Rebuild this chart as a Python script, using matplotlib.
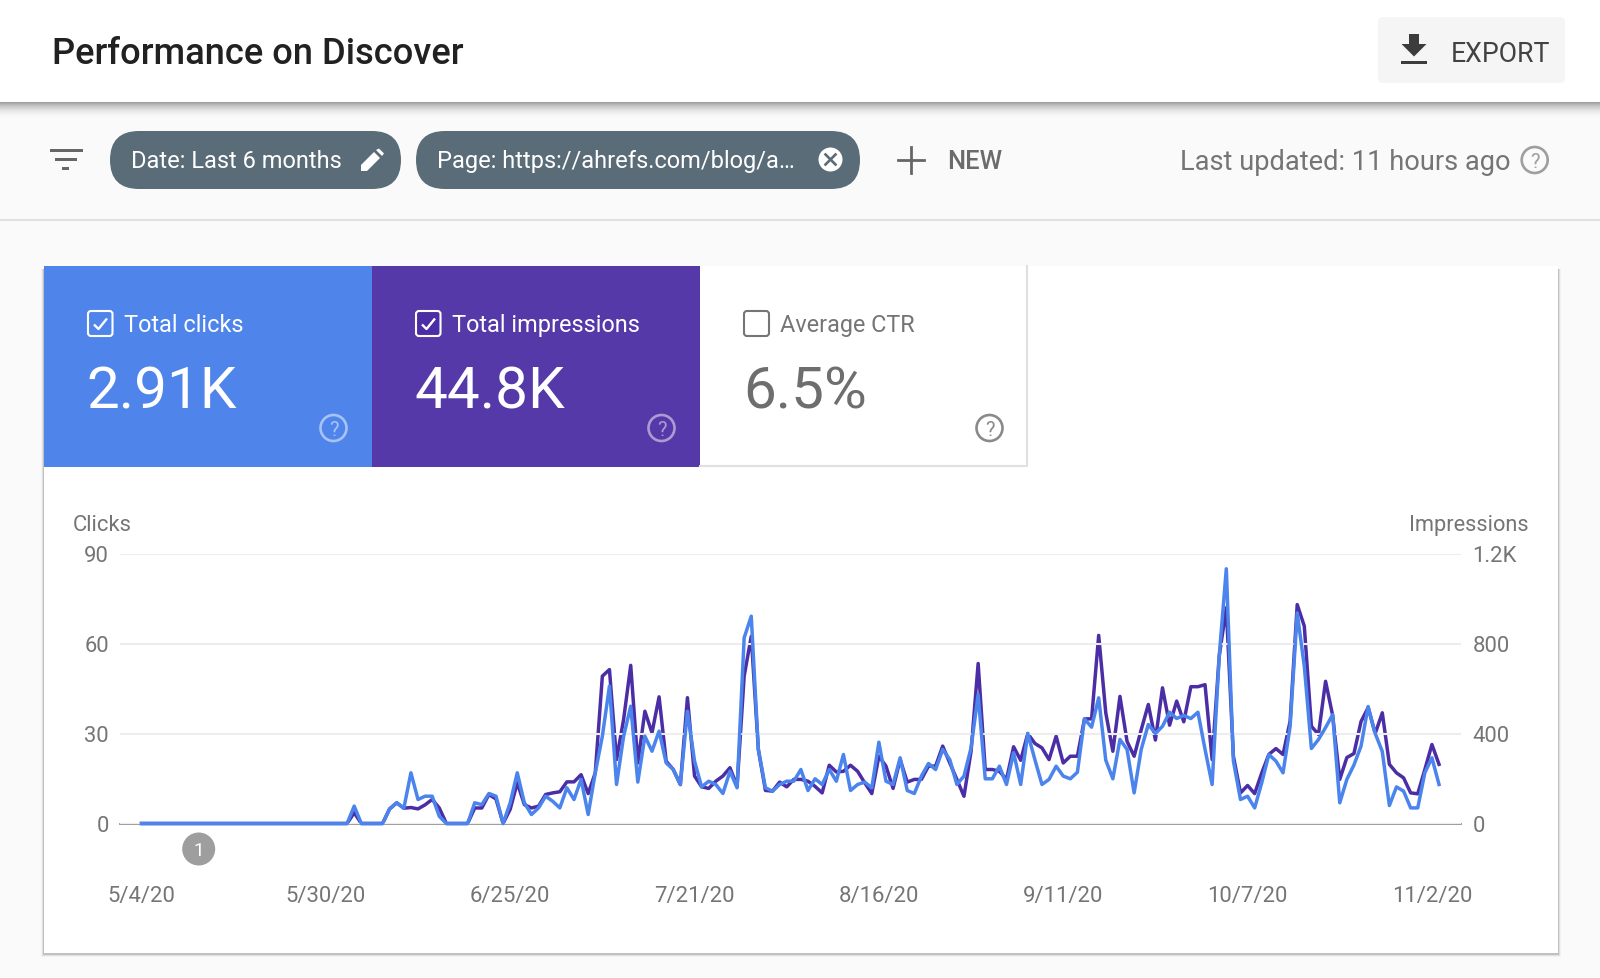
#!/usr/bin/env python3
"""Search Console style performance card, drawn on a pixel grid."""

import matplotlib

matplotlib.use("Agg")

import matplotlib.dates as mdates
import matplotlib.pyplot as plt
import pandas as pd
from matplotlib.patches import Circle, FancyBboxPatch, Polygon, Rectangle

plt.rcParams["font.family"] = ["Roboto", "DejaVu Sans"]

W, H = 1600, 979

BG = "#FAFAFA"
BLUE = "#4A84EC"
PURPLE = "#4B2EA5"
TILE_BLUE = "#4F85EB"
TILE_PURPLE = "#5539A8"
CHIP = "#5A6C78"
GREY = "#757575"

CLICKS = [
    0, 0, 0, 0, 0, 0, 0, 0, 0, 0,
    0, 0, 0, 0, 0, 0, 0, 0, 0, 0,
    0, 0, 0, 0, 0, 0, 0, 0, 0, 0,
    5.8, 0, 0, 0, 0, 4.9, 6.9, 5.1, 16.9, 8,
    9.1, 9.1, 2.4, 0, 0, 0, 0, 6.9, 6.3, 10,
    9.1, 0, 6.9, 16.9, 6.9, 3, 5.2, 9.1, 7.4, 5.2,
    11.9, 8, 14.7, 3, 16.9, 29.1, 45.8, 13, 29.1, 39.1,
    13.8, 29.1, 24.1, 30.8, 20.2, 18, 13, 37.4, 20.8, 12.2,
    14.1, 13, 10, 17.4, 11.9, 61.9, 69.1, 24.7, 11.9, 10.8,
    13, 14.1, 14.1, 18, 11, 14.9, 13, 18, 14.1, 23,
    11, 13, 13.8, 11.9, 27.1, 14.1, 13, 21.9, 11, 10,
    15.8, 20, 18, 24.7, 21.3, 13, 15.8, 25.2, 43, 14.9,
    14.9, 19.1, 13, 23.6, 13, 30, 21.3, 13, 14.7, 19.1,
    15.8, 14.9, 17.1, 34.9, 32.1, 41.9, 21.1, 14.9, 28, 24.7,
    10.2, 24.7, 33, 30, 32.4, 37.1, 35, 36, 35, 37.1,
    24.7, 13, 55.8, 84.9, 20.8, 8, 9.1, 5.2, 13.6, 23,
    20.8, 16.9, 32.4, 70.2, 52.4, 25, 28, 32, 36.3, 6.9,
    14.7, 19.5, 25.8, 39, 30, 24, 6, 12.2, 10.8, 5.2,
    5.2, 16.9, 21.9, 13,
]

IMPRESSIONS = [
    0, 0, 0, 0, 0, 0, 0, 0, 0, 0,
    0, 0, 0, 0, 0, 0, 0, 0, 0, 0,
    0, 0, 0, 0, 0, 0, 0, 0, 0, 0,
    48, 0, 0, 0, 0, 65, 92, 68, 71, 65,
    83, 107, 69, 0, 0, 0, 0, 69, 69, 129,
    109, 0, 63, 181, 84, 69, 77, 129, 136, 141,
    185, 185, 217, 133, 225, 655, 684, 284, 463, 703,
    269, 499, 403, 563, 277, 240, 173, 559, 211, 163,
    156, 188, 211, 248, 165, 655, 832, 329, 147, 144,
    184, 163, 196, 196, 188, 165, 136, 259, 229, 232,
    259, 232, 181, 133, 299, 255, 156, 284, 184, 196,
    196, 255, 255, 344, 269, 196, 121, 321, 711, 240,
    240, 232, 196, 341, 281, 400, 356, 336, 284, 388,
    269, 299, 299, 465, 465, 836, 492, 321, 565, 365,
    299, 417, 529, 371, 603, 437, 544, 452, 608, 608,
    617, 284, 744, 959, 299, 136, 169, 133, 225, 307,
    333, 307, 455, 973, 877, 432, 396, 632, 480, 196,
    293, 311, 453, 515, 400, 492, 263, 225, 203, 136,
    132, 240, 351, 263,
]

DATES = pd.date_range("2020-05-04", periods=len(CLICKS), freq="D")

X_TICK_DATES = pd.to_datetime(
    ["2020-05-04", "2020-05-30", "2020-06-25", "2020-07-21",
     "2020-08-16", "2020-09-11", "2020-10-07", "2020-11-02"]
)
X_TICK_LABELS = ["5/4/20", "5/30/20", "6/25/20", "7/21/20", "8/16/20", "9/11/20", "10/7/20", "11/2/20"]

CLICK_TICKS = [0, 30, 60, 90]
IMPRESSION_TICKS = [0, 400, 800, 1200]
IMPRESSION_LABELS = ["0", "400", "800", "1.2K"]


def txt(ax, x, y, s, size, color, weight="normal", ha="left"):
    ax.text(x, y, s, fontsize=size, color=color, fontweight=weight, ha=ha, va="baseline")


def help_icon(ax, cx, cy, r, color, alpha=1.0):
    ax.add_patch(Circle((cx, cy), r, fc="none", ec=color, lw=1.9, alpha=alpha))
    ax.text(cx, cy + 7, "?", fontsize=14.5, color=color, alpha=alpha, ha="center", va="baseline")


def checkbox(ax, x0, x1, y0, y1, color, fill, checked=True):
    ax.add_patch(FancyBboxPatch((x0 + 2, y0 + 2), x1 - x0 - 4, y1 - y0 - 4,
                                boxstyle="round,pad=2,rounding_size=3", fc=fill, ec=color, lw=1.5))
    if checked:
        ax.plot([x0 + 6, x0 + 10.5, x1 - 5.5], [y0 + 13.5, y0 + 18, y0 + 7.5],
                color=color, lw=1.7, solid_capstyle="butt")


def draw_ui(ui):
    # header bar with its soft shadow
    for i in range(18):
        ui.add_patch(Rectangle((0, 103 + i), W, 1, fc="black", ec="none", alpha=0.36 * (1 - i / 18) ** 2.4))
    ui.add_patch(Rectangle((0, 0), W, 103, fc="white", ec="none"))
    txt(ui, 51.5, 64, "Performance on Discover", 26.1, "#212121", weight=500)

    ui.add_patch(FancyBboxPatch((1383, 23), 177, 56, boxstyle="round,pad=5,rounding_size=5", fc="#F5F5F5", ec="none"))
    ui.add_patch(Polygon([(1409, 35), (1419, 35), (1419, 45), (1426.5, 45), (1414, 57.5), (1401.5, 45), (1409, 45)],
                         fc="#3C3C3C", ec="none"))
    ui.add_patch(Rectangle((1401, 61.5), 25.5, 3, fc="#3C3C3C", ec="none"))
    txt(ui, 1450.5, 61.5, "EXPORT", 19.2, "#424242")

    # filter row
    ui.add_patch(Rectangle((0, 220), W, 2, fc="#E0E0E0", ec="none"))
    ui.add_patch(Rectangle((49.5, 149.5), 33, 3, fc="#666666", ec="none"))
    ui.add_patch(Rectangle((54.5, 158.5), 22.5, 3, fc="#666666", ec="none"))
    ui.add_patch(Rectangle((62, 168), 7, 3, fc="#666666", ec="none"))

    ui.add_patch(FancyBboxPatch((110, 132), 291, 58, boxstyle="round,pad=0,rounding_size=29", fc=CHIP, ec="none"))
    txt(ui, 131, 168, "Date: Last 6 months", 17.0, "white")
    ui.add_patch(Polygon([(361, 172), (361, 166), (374, 153), (380, 159), (367, 172)], fc="white", ec="none"))
    ui.add_patch(Polygon([(376, 151), (379, 149.5), (384, 154.5), (382, 157)], fc="white", ec="none"))

    ui.add_patch(FancyBboxPatch((416, 132), 444, 58, boxstyle="round,pad=0,rounding_size=29", fc=CHIP, ec="none"))
    txt(ui, 437, 168, "Page: https://ahrefs.com/blog/a\u2026", 17.0, "white")
    ui.add_patch(Circle((830.5, 160.5), 12, fc="white", ec="none"))
    ui.plot([825.5, 835.5], [155.5, 165.5], color=CHIP, lw=1.9)
    ui.plot([825.5, 835.5], [165.5, 155.5], color=CHIP, lw=1.9)

    ui.plot([898, 924], [160.7, 160.7], color="#666666", lw=2)
    ui.plot([911, 911], [147.7, 173.7], color="#666666", lw=2)
    txt(ui, 947.5, 169, "NEW", 18.4, "#6B6B6B", weight=500)
    txt(ui, 1179.5, 169.5, "Last updated: 11 hours ago", 19.6, GREY)
    help_icon(ui, 1534.7, 161, 13, "#9E9E9E")

    # main card, shadow sits a little low so the top edge stays clean
    for pad, alpha in ((3, 0.03), (2, 0.07), (1, 0.14)):
        ui.add_patch(Rectangle((44 - pad, 270), 1514 + 2 * pad, 685 + pad, fc="black", ec="none", alpha=alpha))
    ui.add_patch(Rectangle((44, 267), 1514, 687, fc="white", ec="none"))

    ui.add_patch(Rectangle((44, 267), 328, 200.5, fc=TILE_BLUE, ec="none"))
    ui.add_patch(Rectangle((372, 267), 328, 200.5, fc=TILE_PURPLE, ec="none"))
    ui.plot([1026.5, 1026.5, 700], [267, 467, 467], color="#E0E0E0", lw=1.5)

    checkbox(ui, 88, 112.5, 312, 337, "white", TILE_BLUE)
    txt(ui, 124.5, 331.7, "Total clicks", 16.95, "white")
    txt(ui, 86.5, 408.3, "2.91K", 42, "white")
    help_icon(ui, 333.5, 429, 13, "white", alpha=0.5)

    checkbox(ui, 416, 440.5, 312, 337, "white", "#4B2EA5")
    txt(ui, 452.5, 331.7, "Total impressions", 16.95, "white")
    txt(ui, 414.5, 408.3, "44.8K", 42, "white")
    help_icon(ui, 661.5, 429, 13, "white", alpha=0.5)

    checkbox(ui, 744, 769, 312, 337, GREY, "white", checked=False)
    txt(ui, 780.5, 331.7, "Average CTR", 16.85, GREY)
    txt(ui, 743, 408.3, "6.5%", 42, "#6E6E6E")
    help_icon(ui, 989.5, 429, 13, "#8A8A8A")

    txt(ui, 72.5, 531.5, "Clicks", 15.9, GREY)
    txt(ui, 1529, 531.5, "Impressions", 15.7, GREY, ha="right")

    ui.add_patch(Circle((198.7, 850), 16.5, fc="#9E9E9E", ec="none"))
    ui.text(198.7, 856.5, "1", fontsize=13.5, color="white", ha="center", va="baseline")


def draw_chart(fig):
    left, right, top, bottom = 120, 1461, 554.5, 824.5
    ax = fig.add_axes([left / W, 1 - bottom / H, (right - left) / W, (bottom - top) / H], zorder=3)
    ax2 = ax.twinx()
    ax.set_zorder(ax2.get_zorder() + 1)
    ax.patch.set_visible(False)
    ax2.patch.set_visible(False)

    ax2.plot(DATES, IMPRESSIONS, color=PURPLE, lw=2.5, clip_on=False)
    ax.plot(DATES, CLICKS, color=BLUE, lw=2.5, clip_on=False)

    start = mdates.date2num(DATES[0])
    ax.set_xlim(start - 3.03, start + 186.1)
    ax.set_ylim(0, 90)
    ax2.set_ylim(0, 1200)

    ax.set_xticks(X_TICK_DATES)
    ax.set_xticklabels(X_TICK_LABELS)
    ax.set_yticks(CLICK_TICKS)
    ax2.set_yticks(IMPRESSION_TICKS)
    ax2.set_yticklabels(IMPRESSION_LABELS)

    ax.tick_params(axis="x", length=0, pad=44.6, labelsize=15.9, labelcolor=GREY)
    ax.tick_params(axis="y", length=0, pad=8.0, labelsize=15.8, labelcolor=GREY)
    ax2.tick_params(axis="y", length=0, pad=8.3, labelsize=15.8, labelcolor=GREY)

    ax2.grid(False)
    ax.grid(axis="y", color="#EDEDED", lw=1.5)
    ax.set_axisbelow(True)
    for a in (ax, ax2):
        for side in ("top", "left", "right"):
            a.spines[side].set_visible(False)
    ax2.spines["bottom"].set_visible(False)
    ax.spines["bottom"].set_color("#9E9E9E")
    ax.spines["bottom"].set_linewidth(1.4)
    ax.spines["bottom"].set_zorder(0.5)


def main():
    fig = plt.figure(figsize=(W / 100, H / 100), dpi=100, facecolor=BG)
    ui = fig.add_axes([0, 0, 1, 1], zorder=1)
    ui.set_xlim(0, W)
    ui.set_ylim(H, 0)
    ui.axis("off")
    draw_ui(ui)
    draw_chart(fig)
    fig.savefig("out.png", dpi=100, facecolor=BG)
    plt.close(fig)


if __name__ == "__main__":
    main()
